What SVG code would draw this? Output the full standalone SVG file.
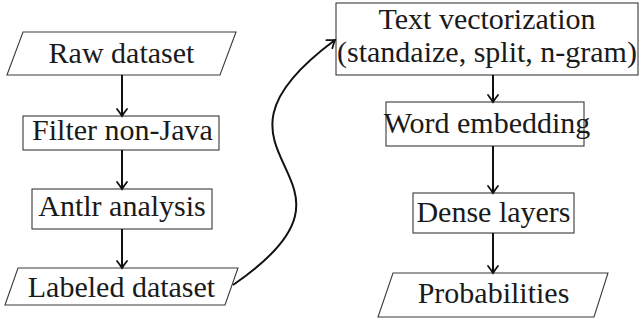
<svg xmlns="http://www.w3.org/2000/svg" width="642" height="321" viewBox="0 0 642 321">
  <style>
    .shape { fill: #ffffff; stroke: #3a3a3a; stroke-width: 1.1; }
    .label { font-family: 'Liberation Serif', 'Times New Roman', Times, Tinos, 'DejaVu Serif', 'Noto Serif', serif; font-size: 30px; fill: #1a1a1a; text-anchor: middle; }
    .edge { fill: none; stroke: #111111; stroke-width: 2; }
  </style>
  <defs>
    <marker id="tip" markerUnits="userSpaceOnUse" markerWidth="14" markerHeight="14" viewBox="-10 -7 12 14" refX="0" refY="0" orient="auto">
      <path d="M -7,-5 Q -2.5,-1.5 0,0 Q -2.5,1.5 -7,5" fill="none" stroke="#111111" stroke-width="1.8" stroke-linecap="round"/>
    </marker>
  </defs>

  <rect width="642" height="321" fill="#ffffff"/>

  <g id="raw-dataset">
    <polygon class="shape" points="23,32 236,32 220,75 7,75"/>
    <text class="label" x="121.5" y="63" font-family="Liberation Serif, serif">Raw dataset</text>
  </g>
  <g id="filter-non-java">
    <rect class="shape" x="23" y="116" width="196" height="34"/>
    <text class="label" x="122.5" y="140" font-family="Liberation Serif, serif">Filter non-Java</text>
  </g>
  <g id="antlr-analysis">
    <rect class="shape" x="32" y="189" width="180" height="40"/>
    <text class="label" x="122" y="216" font-family="Liberation Serif, serif">Antlr analysis</text>
  </g>
  <g id="labeled-dataset">
    <polygon class="shape" points="18,268 238,268 225,305 5,305"/>
    <text class="label" x="121.5" y="297" font-family="Liberation Serif, serif">Labeled dataset</text>
  </g>

  <g id="text-vectorization">
    <rect class="shape" x="336" y="3" width="302" height="72"/>
    <text class="label" x="487" y="29" font-family="Liberation Serif, serif">Text vectorization</text>
    <text class="label" x="487" y="62" font-family="Liberation Serif, serif">(standaize, split, n-gram)</text>
  </g>
  <g id="word-embedding">
    <rect class="shape" x="386" y="102" width="198" height="44"/>
    <text class="label" x="487" y="133" font-family="Liberation Serif, serif">Word embedding</text>
  </g>
  <g id="dense-layers">
    <rect class="shape" x="413" y="193" width="161" height="40"/>
    <text class="label" x="493.5" y="222" font-family="Liberation Serif, serif">Dense layers</text>
  </g>
  <g id="probabilities">
    <polygon class="shape" points="393,273 608,273 594,317 378,317"/>
    <text class="label" x="493.5" y="303" font-family="Liberation Serif, serif">Probabilities</text>
  </g>

  <g id="connectors">
    <line class="edge" x1="122" y1="75" x2="122" y2="116" marker-end="url(#tip)"/>
    <line class="edge" x1="122" y1="150" x2="122" y2="189" marker-end="url(#tip)"/>
    <line class="edge" x1="122" y1="229" x2="122" y2="268" marker-end="url(#tip)"/>
    <path class="edge" d="M 233,285 C 396,173 173,160 335,40" marker-end="url(#tip)"/>
    <line class="edge" x1="493" y1="75" x2="493" y2="102" marker-end="url(#tip)"/>
    <line class="edge" x1="493" y1="146" x2="493" y2="193" marker-end="url(#tip)"/>
    <line class="edge" x1="493" y1="233" x2="493" y2="273" marker-end="url(#tip)"/>
  </g>
</svg>
